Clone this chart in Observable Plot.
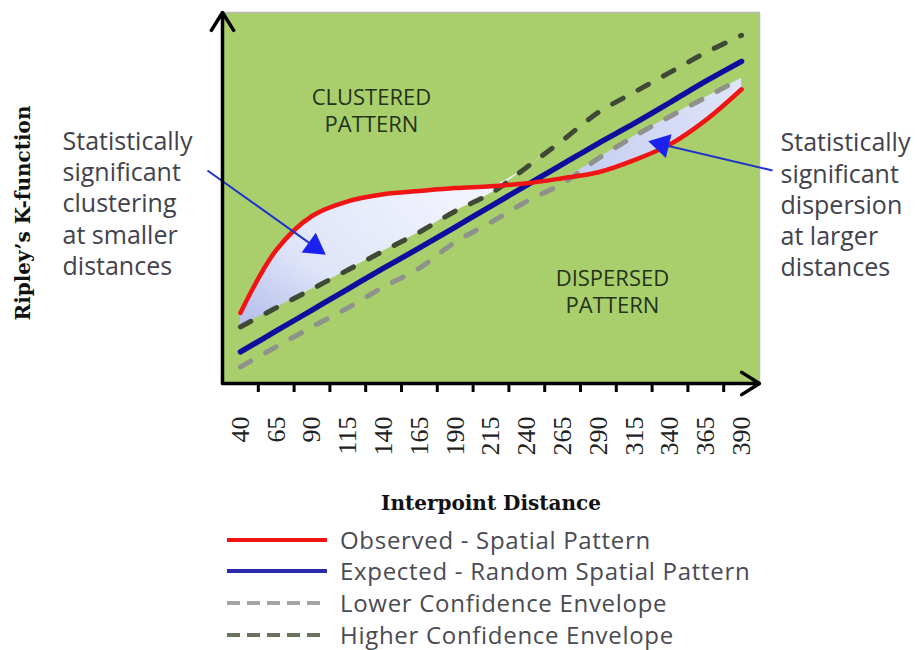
<!DOCTYPE html>
<html>
<head>
<meta charset="utf-8">
<script src="https://cdn.jsdelivr.net/npm/d3@7"></script>
<script src="https://cdn.jsdelivr.net/npm/@observablehq/plot@0.6"></script>
<style>
  html, body { margin: 0; padding: 0; background: #fff; overflow: hidden; }
  #chart svg { display: block; }
  .legend { margin-left: 227px; padding-top: 4px; font-family: "Open Sans", "Noto Sans", sans-serif; font-size: 24px; line-height: 1; color: #4a4a52; letter-spacing: 0.7px; }
  .legend .row { display: flex; align-items: center; height: 31.6px; white-space: nowrap; }
  .legend svg { width: 100px; height: 10px; margin-right: 13px; flex: none; }
</style>
</head>
<body>
<div id="chart"></div>
<script>
// ---- data ----
const distances = [40, 65, 90, 115, 140, 165, 190, 215, 240, 265, 290, 315, 340, 365, 390];
const observed  = [18.2, 35.3, 44.6, 48.6, 50.5, 51.4, 52.2, 52.7, 53.5, 54.9, 56.5, 59.8, 64.1, 70.7, 79.1];
const expected  = [7.6, 13.3, 19.0, 24.7, 30.4, 35.9, 41.6, 47.3, 53.0, 58.7, 64.4, 69.8, 75.5, 81.3, 86.7];
const lowerEnv  = [3.5, 9.0, 14.4, 19.6, 25.3, 30.4, 37.5, 42.9, 48.6, 53.5, 60.3, 66.3, 71.7, 76.9, 82.1];
const higherEnv = [14.4, 19.6, 24.7, 29.9, 35.1, 40.2, 45.9, 50.8, 57.9, 65.2, 72.8, 78.3, 83.7, 89.1, 93.8];

const seriesNames = ["Observed - Spatial Pattern", "Expected - Random Spatial Pattern", "Lower Confidence Envelope", "Higher Confidence Envelope"];
const regionLabels = [
  {text: "CLUSTERED\nPATTERN", x: 131.5, y: 73.6},
  {text: "DISPERSED\nPATTERN", x: 299.8, y: 24.3}
];
const callouts = [
  {text: "Statistically\nsignificant\nclustering\nat smaller\ndistances", x: -84.2, y: 48.3},
  {text: "Statistically\nsignificant\ndispersion\nat larger\ndistances", x: 417.2, y: 47.9}
];
const pointers = [
  {x1: 17.0, y1: 57.0, x2: 97.3, y2: 34.7, rotate: 125.5},
  {x1: 411.6, y1: 57.0, x2: 328.5, y2: 64.6, rotate: 283.5}
];
const axisTitles = {x: "Interpoint Distance", y: "Ripley\u2019s K-function"};
// ------------------------------------------------

const rows = distances.map((d, i) => ({
  d, obs: observed[i], exp: expected[i], lo: lowerEnv[i], hi: higherEnv[i]
}));
const boundaries = distances.slice(0, -1).map(d => d + 12.5);
const xMin = distances[0] - 12.5, xMax = distances[distances.length - 1] + 12.5;
const yMin = -1, yMax = 100;
const heads = pointers.map(p => ({x: p.x1 + 0.93 * (p.x2 - p.x1), y: p.y1 + 0.93 * (p.y2 - p.y1), rotate: p.rotate}));

const green = "#a9cf6d";
const cRed = "#f01414", cBlue = "#0e0e9e", cDark = "#3f4936", cGray = "#8e928a";
const sans = "'Open Sans', 'Noto Sans', sans-serif";
const serif = "'DejaVu Serif', 'Liberation Serif', serif";
const tickSerif = "'Liberation Serif', 'DejaVu Serif', serif";

const plot = Plot.plot({
  width: 918,
  height: 520,
  marginLeft: 222,
  marginRight: 159,
  marginTop: 12,
  marginBottom: 137,
  x: {type: "linear", domain: [xMin, xMax]},
  y: {domain: [yMin, yMax], axis: null},
  marks: [
    Plot.frame({fill: green, stroke: "#b9bbae", strokeWidth: 1.5}),
    // shaded significance regions
    Plot.areaY(rows, {x: "d", y1: "hi", y2: r => Math.max(r.obs, r.hi), curve: "catmull-rom", fill: "url(#shadeA)"}),
    Plot.areaY(rows, {x: "d", y1: "obs", y2: r => Math.max(r.obs, r.lo), curve: "catmull-rom", fill: "url(#shadeB)"}),
    // series
    Plot.line(rows, {x: "d", y: "lo", curve: "catmull-rom", stroke: cGray, strokeWidth: 5, strokeDasharray: "12,17", strokeLinecap: "round"}),
    Plot.line(rows, {x: "d", y: "hi", curve: "catmull-rom", stroke: cDark, strokeWidth: 5, strokeDasharray: "12,17", strokeLinecap: "round"}),
    Plot.line(rows, {x: "d", y: "exp", curve: "catmull-rom", stroke: cBlue, strokeWidth: 5.5}),
    Plot.line(rows, {x: "d", y: "obs", curve: "catmull-rom", stroke: cRed, strokeWidth: 4.5}),
    // region labels
    Plot.text(regionLabels, {x: "x", y: "y", text: "text", fontFamily: sans, fontSize: 22, fill: "#24321a", lineHeight: 1.25, textAnchor: "middle", stroke: green, strokeWidth: 0.1}),
    // callouts
    Plot.text(callouts, {x: "x", y: "y", text: "text", fontFamily: sans, fontSize: 25, fill: "#42424c", lineHeight: 1.25, textAnchor: "start", clip: false}),
    Plot.link(pointers, {x1: "x1", y1: "y1", x2: "x2", y2: "y2", stroke: "#2233c8", strokeWidth: 2}),
    Plot.dot(heads, {x: "x", y: "y", rotate: "rotate", symbol: "triangle", r: 9, fill: "#1a22ee", stroke: "none"}),
    // axes
    Plot.axisX({ticks: boundaries, tickSize: 9, tickFormat: () => "", strokeWidth: 3, stroke: "#000", label: null}),
    Plot.text(distances, {x: d => d, y: yMin, text: d => String(d), rotate: -90, textAnchor: "end", lineAnchor: "middle", dy: 33, fontFamily: tickSerif, fontSize: 26, fill: "#222"}),
    Plot.arrow([0], {x1: xMin, y1: yMin, x2: xMin, y2: yMax, stroke: "#000", strokeWidth: 3.5, headLength: 9, headAngle: 64}),
    Plot.arrow([0], {x1: xMin, y1: yMin, x2: xMax, y2: yMin, stroke: "#000", strokeWidth: 3.5, headLength: 9, headAngle: 64}),
    // axis titles
    Plot.text([axisTitles.x], {frameAnchor: "bottom", dy: 126, text: d => d, fontFamily: serif, fontWeight: "bold", fontSize: 20, fill: "#111"}),
    Plot.text([axisTitles.y], {frameAnchor: "left", dx: -199, dy: 15, rotate: -90, textAnchor: "middle", text: d => d, fontFamily: serif, fontWeight: "bold", fontSize: 20, fill: "#111"})
  ]
});

d3.select(plot).insert("defs", ":first-child").html(`
  <radialGradient id="shadeA" cx="0.45" cy="0.55" r="0.6">
    <stop offset="0" stop-color="#f2f4fd"/>
    <stop offset="0.65" stop-color="#dfe4f8"/>
    <stop offset="1" stop-color="#b8c2ec"/>
  </radialGradient>
  <linearGradient id="shadeB" x1="0" y1="0" x2="1" y2="0">
    <stop offset="0" stop-color="#e4e8fa"/>
    <stop offset="0.45" stop-color="#b4bfec"/>
    <stop offset="1" stop-color="#dfe4f8"/>
  </linearGradient>`);
document.getElementById("chart").appendChild(plot);

// legend
const legendStyles = [
  {stroke: cRed, dash: null},
  {stroke: "#2a2aa8", dash: null},
  {stroke: "#a3a6a0", dash: "13,7"},
  {stroke: "#6a7260", dash: "13,7"}
];
const legend = d3.select("body").append("div").attr("class", "legend");
seriesNames.forEach((name, i) => {
  const row = legend.append("div").attr("class", "row");
  const s = row.append("svg").attr("viewBox", "0 0 100 10");
  s.append("line").attr("x1", 0).attr("x2", 100).attr("y1", 5).attr("y2", 5)
    .attr("stroke", legendStyles[i].stroke).attr("stroke-width", 4)
    .attr("stroke-dasharray", legendStyles[i].dash);
  row.append("span").text(name);
});
</script>
</body>
</html>
